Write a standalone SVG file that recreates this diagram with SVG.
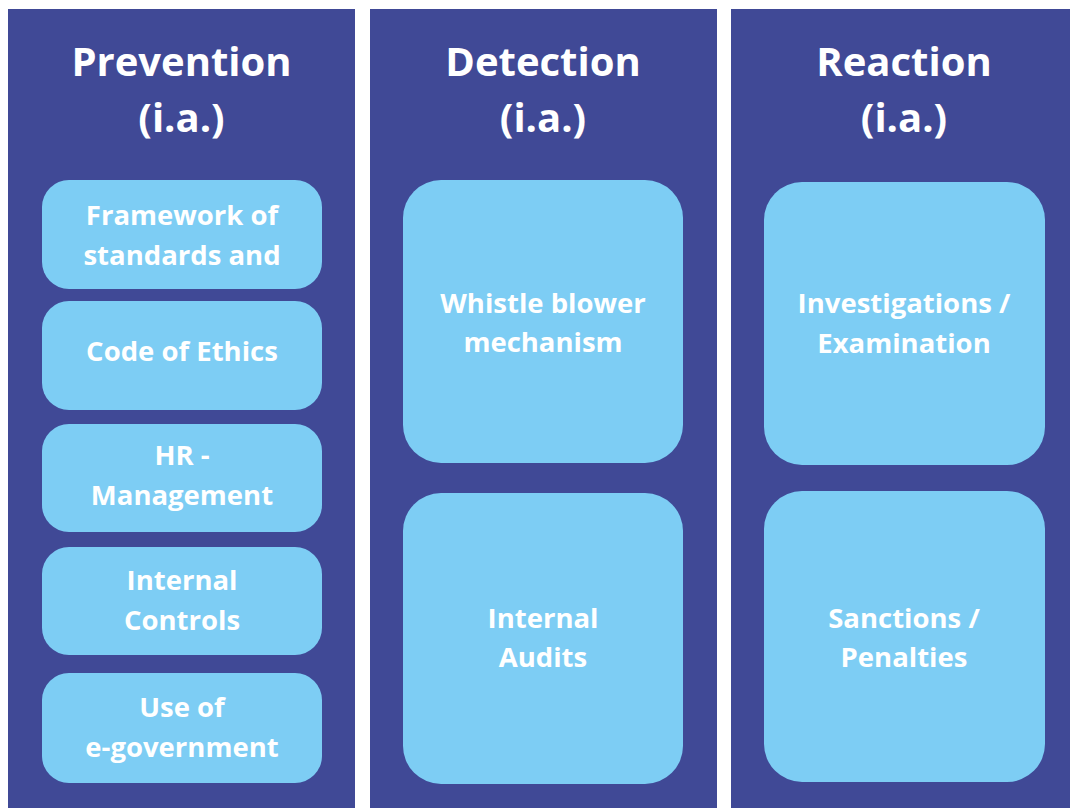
<svg xmlns="http://www.w3.org/2000/svg" width="1070" height="808" viewBox="0 0 1070 808">
<style>
.col{fill:#404996}
.box{fill:#7dcdf4}
.t{font-family:"Open Sans","Noto Sans",sans-serif;font-weight:bold;fill:#ffffff;text-anchor:middle}
.h{font-size:40px}
.b{font-size:27.5px}
</style>
<rect width="1070" height="808" fill="#ffffff"/>
<g id="col-prevention">
<rect class="col" x="8" y="9" width="347" height="799"/>
<text class="t h" x="181.5" y="76">Prevention</text>
<text class="t h" x="181.5" y="132">(i.a.)</text>
</g>
<g id="col-detection">
<rect class="col" x="370" y="9" width="347" height="799"/>
<text class="t h" x="543" y="76">Detection</text>
<text class="t h" x="543" y="132">(i.a.)</text>
</g>
<g id="col-reaction">
<rect class="col" x="731" y="9" width="339" height="799"/>
<text class="t h" x="904" y="76">Reaction</text>
<text class="t h" x="904" y="132">(i.a.)</text>
</g>
<g id="framework">
<rect class="box" x="42" y="180" width="280" height="109" rx="27"/>
<text class="t b" x="182" y="225">Framework of</text>
<text class="t b" x="182" y="265">standards and</text>
</g>
<g id="ethics">
<rect class="box" x="42" y="301" width="280" height="109" rx="27"/>
<text class="t b" x="182" y="361">Code of Ethics</text>
</g>
<g id="hr">
<rect class="box" x="42" y="424" width="280" height="108" rx="27"/>
<text class="t b" x="182" y="465">HR -</text>
<text class="t b" x="182" y="505">Management</text>
</g>
<g id="controls">
<rect class="box" x="42" y="547" width="280" height="108" rx="27"/>
<text class="t b" x="182" y="590">Internal</text>
<text class="t b" x="182" y="630">Controls</text>
</g>
<g id="egov">
<rect class="box" x="42" y="673" width="280" height="110" rx="27"/>
<text class="t b" x="182" y="717">Use of</text>
<text class="t b" x="182" y="757">e-government</text>
</g>
<g id="whistle">
<rect class="box" x="403" y="180" width="280" height="283" rx="38"/>
<text class="t b" x="543" y="313">Whistle blower</text>
<text class="t b" x="543" y="352">mechanism</text>
</g>
<g id="audits">
<rect class="box" x="403" y="493" width="280" height="291" rx="38"/>
<text class="t b" x="543" y="628">Internal</text>
<text class="t b" x="543" y="667">Audits</text>
</g>
<g id="investigations">
<rect class="box" x="764" y="182" width="281" height="283" rx="38"/>
<text class="t b" x="904" y="313">Investigations /</text>
<text class="t b" x="904" y="353">Examination</text>
</g>
<g id="sanctions">
<rect class="box" x="764" y="491" width="281" height="291" rx="38"/>
<text class="t b" x="904" y="628">Sanctions /</text>
<text class="t b" x="904" y="667">Penalties</text>
</g>
<g id="connectors"/>
</svg>
